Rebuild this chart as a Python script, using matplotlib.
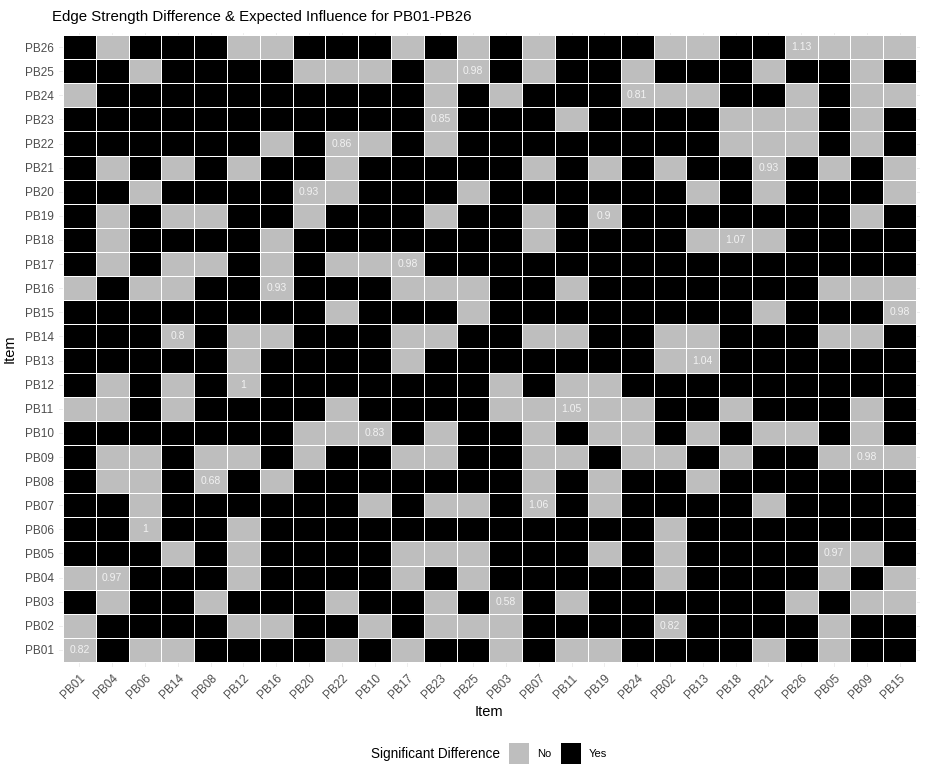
import numpy as np
import matplotlib
matplotlib.use("Agg")
import matplotlib.pyplot as plt
from matplotlib.colors import ListedColormap
from matplotlib.patches import Rectangle
from matplotlib.transforms import ScaledTranslation

plt.rcParams['font.family'] = ['Liberation Sans', 'DejaVu Sans']

x_items = ["PB01", "PB04", "PB06", "PB14", "PB08", "PB12", "PB16", "PB20", "PB22",
           "PB10", "PB17", "PB23", "PB25", "PB03", "PB07", "PB11", "PB19", "PB24",
           "PB02", "PB13", "PB18", "PB21", "PB26", "PB05", "PB09", "PB15"]
y_items = ["PB%02d" % i for i in range(1, 27)]

# 1 = significant difference (Yes, black), 0 = No (grey); rows listed top (PB26) to bottom (PB01)
sig_top_down = [
    [1,0,1,1,1,0,0,1, 1,1,0,1,0,1,0,1,1, 1,0,0,1,1,0,0,0,0],  # PB26
    [1,1,0,1,1,1,1,0, 0,0,1,0,0,1,0,1,1, 0,1,1,1,0,1,1,0,1],  # PB25
    [0,1,1,1,1,1,1,1, 1,1,1,0,1,0,1,1,1, 0,0,0,1,1,0,1,0,0],  # PB24
    [1,1,1,1,1,1,1,1, 1,1,1,0,1,1,1,0,1, 1,1,1,0,0,0,1,0,1],  # PB23
    [1,1,1,1,1,1,0,1, 0,0,1,0,1,1,1,1,1, 1,1,1,0,0,0,1,0,1],  # PB22
    [1,0,1,0,1,0,1,1, 0,1,1,1,1,1,0,1,0, 1,0,1,1,0,1,0,1,0],  # PB21
    [1,1,0,1,1,1,1,0, 0,1,1,1,0,1,1,1,1, 1,1,0,1,0,1,1,1,0],  # PB20
    [1,0,1,0,0,1,1,0, 1,1,1,0,1,1,0,1,0, 1,1,1,1,1,1,1,0,1],  # PB19
    [1,0,1,1,1,1,0,1, 1,1,1,1,1,1,0,1,1, 1,1,0,0,0,1,1,1,1],  # PB18
    [1,0,1,0,0,1,0,1, 0,0,0,1,1,1,1,1,1, 1,1,1,1,1,1,1,1,1],  # PB17
    [0,1,0,0,1,1,0,1, 1,1,0,0,0,1,1,0,1, 1,1,1,1,1,1,0,0,0],  # PB16
    [1,1,1,1,1,1,1,1, 0,1,1,1,0,1,1,1,1, 1,1,1,1,0,1,1,1,0],  # PB15
    [1,1,1,0,1,0,0,1, 1,1,0,0,1,1,0,0,1, 1,0,0,1,1,1,0,0,1],  # PB14
    [1,1,1,1,1,0,1,1, 1,1,0,1,1,1,1,1,1, 1,0,0,1,1,1,1,1,1],  # PB13
    [1,0,1,0,1,0,1,1, 1,1,1,1,1,0,1,0,0, 1,1,1,1,1,1,1,1,1],  # PB12
    [0,0,1,0,1,1,1,1, 0,1,1,1,1,0,0,0,0, 0,1,1,0,1,1,1,0,1],  # PB11
    [1,1,1,1,1,1,1,0, 0,0,1,0,1,1,0,1,0, 0,1,0,1,0,0,1,0,1],  # PB10
    [1,0,0,1,0,0,1,0, 1,1,0,0,1,1,0,0,1, 0,0,1,0,1,1,0,0,0],  # PB09
    [1,0,0,1,0,1,0,1, 1,1,1,1,1,1,0,1,0, 1,1,0,1,1,1,1,1,1],  # PB08
    [1,1,0,1,1,1,1,1, 1,0,1,0,0,1,0,1,0, 1,1,1,1,0,1,1,1,1],  # PB07
    [1,1,0,1,1,0,1,1, 1,1,1,1,1,1,1,1,1, 1,0,1,1,1,1,1,1,1],  # PB06
    [1,1,1,0,1,0,1,1, 1,1,0,0,0,1,1,1,0, 1,0,1,1,1,1,0,0,1],  # PB05
    [0,0,1,1,1,0,1,1, 1,1,0,1,0,1,1,1,1, 1,0,1,1,1,1,0,1,0],  # PB04
    [1,0,1,1,0,1,1,1, 0,1,1,0,1,0,1,0,1, 1,1,1,1,1,0,1,0,0],  # PB03
    [0,1,1,1,1,0,0,1, 1,0,1,0,0,0,1,1,1, 1,0,1,1,1,1,0,1,1],  # PB02
    [0,1,0,0,1,1,1,1, 0,1,0,1,1,0,1,0,0, 1,1,1,1,0,1,0,1,1],  # PB01
]

# Expected influence shown on the diagonal cells, PB01..PB26
expected_influence = [0.82, 0.82, 0.58, 0.97, 0.97, 1.00, 1.06, 0.68, 0.98, 0.83,
                      1.05, 1.00, 1.04, 0.80, 0.98, 0.93, 0.98, 1.07, 0.90, 0.93,
                      0.93, 0.86, 0.85, 0.81, 0.98, 1.13]

legend_title = "Significant Difference"
legend_labels = ["No", "Yes"]
colors = ["#BEBEBE", "#000000"]

sig = np.array(sig_top_down[::-1])  # row 0 = PB01

fig = plt.figure(figsize=(9.27, 7.68), dpi=100)
ax = fig.add_axes([63/927, 1-662/768, (916-63)/927, (662-35)/768])

# faint background grid (theme_minimal), visible just outside the tiles
for k in range(26):
    ax.axvline(k + 0.5, color="#EBEBEB", lw=0.6, zorder=0)
    ax.axhline(k + 0.5, color="#EBEBEB", lw=0.6, zorder=0)

cmap = ListedColormap(colors)
ax.pcolormesh(np.arange(27), np.arange(27), sig, cmap=cmap, vmin=0, vmax=1,
              edgecolors="white", linewidth=0.7, zorder=1)

for yi, item in enumerate(y_items):
    xi = x_items.index(item)
    ax.text(xi + 0.5, yi + 0.5, f"{expected_influence[yi]:g}", ha="center", va="center",
            color="#F2F2F2", fontsize=7.5, zorder=2)

ax.set_xlim(-0.12, 26.12)
ax.set_ylim(-0.2, 26.1)
ax.set_position([(63 - 0.12*32.8)/927, 1-(662+0.2*24.1)/768,
                 (916-63 + 0.24*32.8)/927, (662-35 + 0.3*24.1)/768])
ax.set_xticks(np.arange(26) + 0.5)
ax.set_xticklabels(x_items, rotation=45, ha="right", va="top", rotation_mode="anchor",
                   fontsize=8.5, color="#4D4D4D")
off = ScaledTranslation(3/100, -5/100, fig.dpi_scale_trans)
for lab in ax.get_xticklabels():
    lab.set_transform(lab.get_transform() + off)
ax.set_yticks(np.arange(26) + 0.5)
ax.set_yticklabels(y_items, fontsize=8.5, color="#4D4D4D")
ax.tick_params(length=0, pad=4)
for s in ax.spines.values():
    s.set_visible(False)

fig.text(489/927, 1-712/768, "Item", ha="center", va="center", fontsize=10.5)
fig.text(10/927, 1-349/768, "Item", ha="center", va="center", fontsize=10.5, rotation=90)
fig.text(52/927, 1-17/768, "Edge Strength Difference & Expected Influence for PB01-PB26",
         ha="left", va="center", fontsize=10.8)

# legend
ly = 1-754/768
fig.text(500/927, ly, legend_title, ha="right", va="center", fontsize=9.8)
fig.patches.append(Rectangle((509/927, 1-764/768), 20/927, 21/768, transform=fig.transFigure,
                             facecolor=colors[0], edgecolor="none"))
fig.text(537/927, ly, legend_labels[0], ha="left", va="center", fontsize=8)
fig.patches.append(Rectangle((561/927, 1-764/768), 20/927, 21/768, transform=fig.transFigure,
                             facecolor=colors[1], edgecolor="none"))
fig.text(589/927, ly, legend_labels[1], ha="left", va="center", fontsize=8)

fig.savefig("out.png", dpi=100, facecolor="white")
